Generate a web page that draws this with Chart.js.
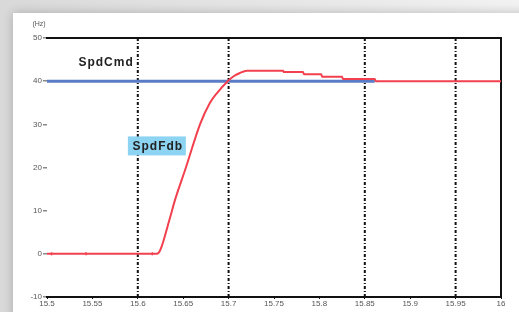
<!DOCTYPE html>
<html>
<head>
<meta charset="utf-8">
<script src="https://cdn.jsdelivr.net/npm/chart.js@4"></script>
<style>
  body { margin: 0; width: 519px; height: 312px; overflow: hidden; background: linear-gradient(90deg, #d9d9d9, #f2f2f2); position: relative; }
  #card { position: absolute; left: 13px; top: 13px; width: 520px; height: 310px; background: #fff; box-shadow: 0 0 10px rgba(0,0,0,0.22); }
  #wrap { position: absolute; left: 0; top: 0; width: 519px; height: 312px; }
</style>
</head>
<body>
<div id="card"></div>
<div id="wrap"><canvas id="grafico" width="519" height="312"></canvas></div>
<script>
// datos
const fdbX = [15.5, 15.505, 15.543, 15.616, 15.621, 15.625, 15.635, 15.641, 15.653, 15.6685, 15.6795, 15.687, 15.699, 15.706, 15.7125, 15.720, 15.760, 15.761, 15.782, 15.783, 15.802, 15.803, 15.825, 15.826, 15.861, 15.862, 16];
const fdbY = [0, 0, 0, 0, 0, 1, 8, 12.5, 20, 30, 35, 37.2, 40, 41.2, 41.9, 42.4, 42.4, 42.1, 42.1, 41.6, 41.6, 41.0, 41.0, 40.5, 40.5, 40, 40];
const cmdX = [15.5, 15.861];
const cmdY = [40, 40];
const markerX = [15.6, 15.7, 15.85, 15.95];
const yTicks = [-10, 0, 10, 20, 30, 40, 50];
const xMin = 15.5, xMax = 16, xStep = 0.05;
const yMin = -10, yMax = 50;
// puntos con marca pequeña en la linea roja
const fdbMarcas = [15.505, 15.543, 15.616];

const ROJO = '#f2404e';
const AZUL = '#5a7bc6';

function formatX(v) {
    return String(Number(v.toFixed(2)));
}

let datasets = [];
for (let mx of markerX) {
    datasets.push({
        data: [{x: mx, y: yMin}, {x: mx, y: yMax}],
        borderColor: '#111',
        borderWidth: 2,
        borderDash: [3, 2, 1, 2],
        pointRadius: 0,
        order: 3
    });
}
datasets.push({
    label: 'SpdCmd',
    data: cmdX.map((x, i) => ({x: x, y: cmdY[i]})),
    borderColor: AZUL,
    borderWidth: 3,
    pointRadius: 0,
    order: 2
});
datasets.push({
    label: 'SpdFdb',
    data: fdbX.map((x, i) => ({x: x, y: fdbY[i]})),
    borderColor: ROJO,
    borderWidth: 2,
    cubicInterpolationMode: 'monotone',
    pointStyle: 'line',
    rotation: 90,
    pointRadius: fdbX.map(x => fdbMarcas.includes(x) ? 1.5 : 0),
    pointBorderColor: ROJO,
    pointBorderWidth: 1.5,
    order: 1
});

const textos = {
    id: 'textos',
    afterDraw(chart) {
        const ctx = chart.ctx;
        const sx = chart.scales.x, sy = chart.scales.y;
        ctx.save();
        // (Hz)
        ctx.font = '7px Arial, "Liberation Sans"';
        ctx.fillStyle = '#555';
        ctx.textAlign = 'center';
        ctx.textBaseline = 'middle';
        ctx.fillText('(Hz)', sx.left - 8, sy.top - 14);
        // SpdCmd
        ctx.font = 'bold 12px Arial, "Liberation Sans"';
        ctx.letterSpacing = '1px';
        ctx.fillStyle = '#222';
        ctx.textAlign = 'right';
        ctx.fillText('SpdCmd', sx.getPixelForValue(15.5955), sy.getPixelForValue(44.2));
        // SpdFdb con caja
        const cx = sx.getPixelForValue(15.621), cy = sy.getPixelForValue(25);
        ctx.fillStyle = '#8dd4f2';
        ctx.fillRect(cx - 29, cy - 9.5, 58, 19);
        ctx.fillStyle = '#222';
        ctx.textAlign = 'center';
        ctx.fillText('SpdFdb', cx + 1, cy + 0.5);
        ctx.restore();
    }
};

const ctx = document.getElementById('grafico').getContext('2d');
const chart = new Chart(ctx, {
    type: 'line',
    data: { datasets: datasets },
    plugins: [textos],
    options: {
        responsive: false,
        animation: false,
        devicePixelRatio: 1,
        layout: { padding: { top: 38, right: 18, left: 0, bottom: 0 } },
        plugins: { legend: { display: false }, tooltip: { enabled: false } },
        scales: {
            x: {
                type: 'linear',
                min: xMin, max: xMax,
                afterFit(s) { s.height = 15; },
                afterBuildTicks(s) {
                    let t = [];
                    for (let i = 0; i <= Math.round((xMax - xMin) / xStep); i++) t.push({value: xMin + i * xStep});
                    s.ticks = t;
                },
                border: { display: true, color: '#111', width: 2 },
                grid: { drawOnChartArea: false, drawTicks: true, tickLength: 2, color: '#111' },
                ticks: {
                    color: '#555', padding: 0, maxRotation: 0, autoSkip: false,
                    font: { size: 8, family: 'Arial, "Liberation Sans"' },
                    callback: v => formatX(v)
                }
            },
            xTop: {
                type: 'linear', position: 'top', min: xMin, max: xMax,
                afterFit(s) { s.height = 0; },
                border: { display: true, color: '#111', width: 2 },
                grid: { display: false },
                ticks: { display: false }
            },
            y: {
                min: yMin, max: yMax,
                afterFit(s) { s.width = 47; },
                afterBuildTicks(s) { s.ticks = yTicks.map(v => ({value: v})); },
                border: { display: false },
                grid: { drawOnChartArea: false, drawTicks: true, tickLength: 4, color: '#888', lineWidth: 1.5 },
                ticks: {
                    color: '#555', padding: 1,
                    font: { size: 8, family: 'Arial, "Liberation Sans"' }
                }
            },
            yRight: {
                position: 'right', min: yMin, max: yMax,
                afterFit(s) { s.width = 0; },
                border: { display: true, color: '#111', width: 2 },
                grid: { display: false },
                ticks: { display: false }
            }
        }
    }
});
</script>
</body>
</html>
